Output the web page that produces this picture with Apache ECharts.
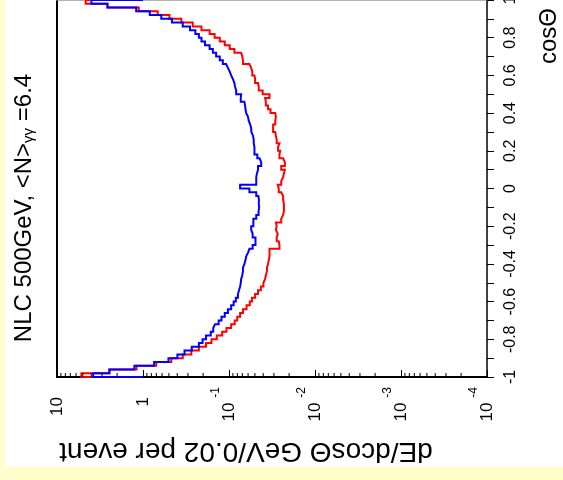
<!DOCTYPE html>
<html><head><meta charset="utf-8">
<script src="https://cdn.jsdelivr.net/npm/echarts/dist/echarts.min.js"></script>
<style>html,body{margin:0;padding:0;background:#ffffcc}#c{width:563px;height:480px}</style>
</head><body><div id="c"></div>
<script>
// cosTheta bins: 100 bins of width 0.02 from -1 to 1 (ascending cosTheta)
const cosMin = -1;
const binWidth = 0.02;
const histBaseline = 1;
const redValues = [5.21,2.46,1.19,0.701,0.469,0.345,0.274,0.224,0.185,0.160,
  0.1387,0.120,0.107,0.0944,0.0858,0.0802,0.0743,0.0688,0.0625,0.0573,
  0.0541,0.0497,0.046,0.0426,0.0398,0.038,0.0373,0.0362,0.0362,0.0352,
  0.0345,0.0338,0.0338,0.0338,0.0259,0.0264,0.0279,0.0271,0.0285,0.0279,
  0.0285,0.0247,0.0235,0.023,0.023,0.023,0.0235,0.0235,0.0247,0.0264,
  0.0271,0.0247,0.0235,0.023,0.0224,0.0247,0.0224,0.0235,0.0259,0.0254,
  0.0269,0.0259,0.0279,0.0285,0.029,0.0307,0.0307,0.029,0.0285,0.029,
  0.0329,0.0352,0.0373,0.038,0.0338,0.0406,0.0451,0.046,0.0497,0.0506,
  0.0536,0.0552,0.0579,0.0688,0.0701,0.0722,0.0866,0.0981,0.112,0.128,
  0.147,0.168,0.209,0.264,0.358,0.492,0.675,1.12,2.59,4.64];
const blueValues = [3.80,2.46,1.26,0.743,0.506,0.398,0.329,0.271,0.224,0.203,
  0.185,0.163,0.1525,0.1454,0.132,0.1223,0.112,0.1029,0.0944,0.0883,
  0.0833,0.0787,0.0764,0.0743,0.0729,0.0722,0.0701,0.0688,0.0688,0.0662,
  0.0643,0.0631,0.0601,0.0579,0.0531,0.0492,0.0492,0.0531,0.0552,0.0552,
  0.0521,0.0521,0.0482,0.0453,0.0446,0.0451,0.0448,0.0455,0.0482,0.0579,
  0.0743,0.0482,0.0482,0.0473,0.046,0.046,0.0422,0.0442,0.0469,0.0506,
  0.0506,0.0516,0.0516,0.0526,0.055,0.0552,0.0568,0.059,0.0601,0.0631,
  0.0643,0.065,0.0662,0.073,0.0722,0.0825,0.085,0.0866,0.090,0.0944,
  0.098,0.103,0.108,0.118,0.128,0.141,0.154,0.168,0.190,0.209,
  0.224,0.246,0.284,0.345,0.460,0.613,0.833,1.20,2.59,3.98];
const titleMain = 'NLC 500GeV, <N>';
const titleSub = 'γγ';
const titleEnd = ' =6.4';
const xTitle = 'dE/dcosΘ GeV/0.02 per event';
const yTitle = 'cosΘ';
const logMin = 1e-4, logMax = 10;
const minorMantissas = [2,3,4,5,6,7,8,9];
const minorDecades = [-4,-3,-2,-1,0];

const FONT = '"Liberation Sans", Arial, Helvetica, sans-serif';

function stepPoints(vals) {
  const pts = [[histBaseline, cosMin]];
  vals.forEach((v, i) => {
    const lo = +(cosMin + i * binWidth).toFixed(2);
    const hi = +(cosMin + (i + 1) * binWidth).toFixed(2);
    pts.push([v, lo]); pts.push([v, hi]);
  });
  pts.push([histBaseline, +(cosMin + vals.length * binWidth).toFixed(2)]);
  return pts;
}
const minorTicks = [];
minorDecades.forEach(e => minorMantissas.forEach(m => minorTicks.push([m * Math.pow(10, e), -1])));

const chart = echarts.init(document.getElementById('c'));
chart.setOption({
  animation: false,
  backgroundColor: '#ffffcc',
  grid: {left: 57, right: 76, top: 0, bottom: 103, show: false,
         containLabel: false, outerBoundsMode: 'none'},
  graphic: [
    {type: 'rect', z: -10, silent: true, shape: {x: 5, y: 0, width: 558, height: 467}, style: {fill: '#ffffff'}},
    {type: 'text', x: 12, y: 208, rotation: Math.PI / 2, z: 10,
      style: {text: '{m|' + titleMain + '}{s|' + titleSub + '}{m|' + titleEnd + '}', align: 'center', verticalAlign: 'top',
        fill: '#000',
        rich: {m: {fontSize: 24, lineHeight: 24, verticalAlign: 'top', fontFamily: FONT, fill: '#000'},
               s: {fontSize: 15, lineHeight: 15, verticalAlign: 'bottom', fontFamily: FONT, fill: '#000'}}}},
    {type: 'text', x: 549, y: 36, rotation: Math.PI / 2, z: 10,
      style: {text: yTitle, align: 'center', verticalAlign: 'middle', fontSize: 24, fontFamily: FONT, fill: '#000'}},
    {type: 'text', x: 246, y: 451, rotation: Math.PI, z: 10,
      style: {text: xTitle, align: 'center', verticalAlign: 'middle', fontSize: 28, fontFamily: FONT, fill: '#000'}}
  ],
  xAxis: [{
    type: 'log', logBase: 10, min: logMin, max: logMax, inverse: true, position: 'bottom',
    splitLine: {show: false},
    axisLine: {show: true, onZero: false, lineStyle: {color: '#000', width: 2}},
    axisTick: {show: true, inside: true, length: 7, lineStyle: {color: '#000', width: 1}},
    axisLabel: {
      rotate: 90, margin: 10, color: '#000', fontFamily: FONT, fontSize: 17, hideOverlap: false,
      showMinLabel: true, showMaxLabel: true,
      formatter: function (v) {
        const e = Math.round(Math.log10(v));
        if (e === 1) return '{t|10}';
        if (e === 0) return '{t|1}';
        return '{b|10}{e|' + e + '}';
      },
      rich: {
        b: {fontSize: 17, lineHeight: 38, fontFamily: FONT, color: '#000'},
        e: {fontSize: 12, lineHeight: 10, verticalAlign: 'top', padding: [0, 0, 0, 5], fontFamily: FONT, color: '#000'},
        t: {fontSize: 17, lineHeight: 17, padding: [0, 10, 0, 0], fontFamily: FONT, color: '#000'}
      }
    }
  }, {
    type: 'log', logBase: 10, min: logMin, max: logMax, inverse: true, position: 'top',
    splitLine: {show: false}, axisTick: {show: false}, axisLabel: {show: false},
    axisLine: {show: true, onZero: false, lineStyle: {color: '#999', width: 1.5}}
  }],
  yAxis: [{
    type: 'value', min: -1, max: 1, interval: 0.2, position: 'right',
    splitLine: {show: false},
    axisLine: {show: true, onZero: false, lineStyle: {color: '#000', width: 1.5}},
    axisTick: {show: true, inside: false, length: 7, lineStyle: {color: '#000', width: 1}},
    minorTick: {show: true, splitNumber: 2, length: 7, lineStyle: {color: '#000', width: 1}},
    axisLabel: {rotate: 90, margin: 16, color: '#000', fontFamily: FONT, fontSize: 16, hideOverlap: false,
      showMinLabel: true, showMaxLabel: true,
      formatter: v => String(Math.round(v * 10) / 10)}
  }, {
    type: 'value', min: -1, max: 1, position: 'left',
    splitLine: {show: false}, axisTick: {show: false}, axisLabel: {show: false},
    axisLine: {show: true, onZero: false, lineStyle: {color: '#000', width: 2}}
  }],
  series: [
    {type: 'line', name: 'red', data: stepPoints(redValues), showSymbol: false, symbol: 'none', z: 3,
      lineStyle: {color: '#ff0000', width: 2, join: 'miter'}, itemStyle: {color: '#ff0000'}},
    {type: 'line', name: 'blue', data: stepPoints(blueValues), showSymbol: false, symbol: 'none', z: 4,
      lineStyle: {color: '#0000ff', width: 2, join: 'miter'}, itemStyle: {color: '#0000ff'}},
    {type: 'custom', name: 'minorTicks', data: minorTicks, clip: false, z: 5, silent: true,
      renderItem: function (params, api) {
        const p = api.coord([api.value(0), api.value(1)]);
        return {type: 'line', shape: {x1: p[0], y1: p[1], x2: p[0], y2: p[1] - 4},
                style: {stroke: '#000', lineWidth: 1}};
      }}
  ]
});
</script></body></html>
